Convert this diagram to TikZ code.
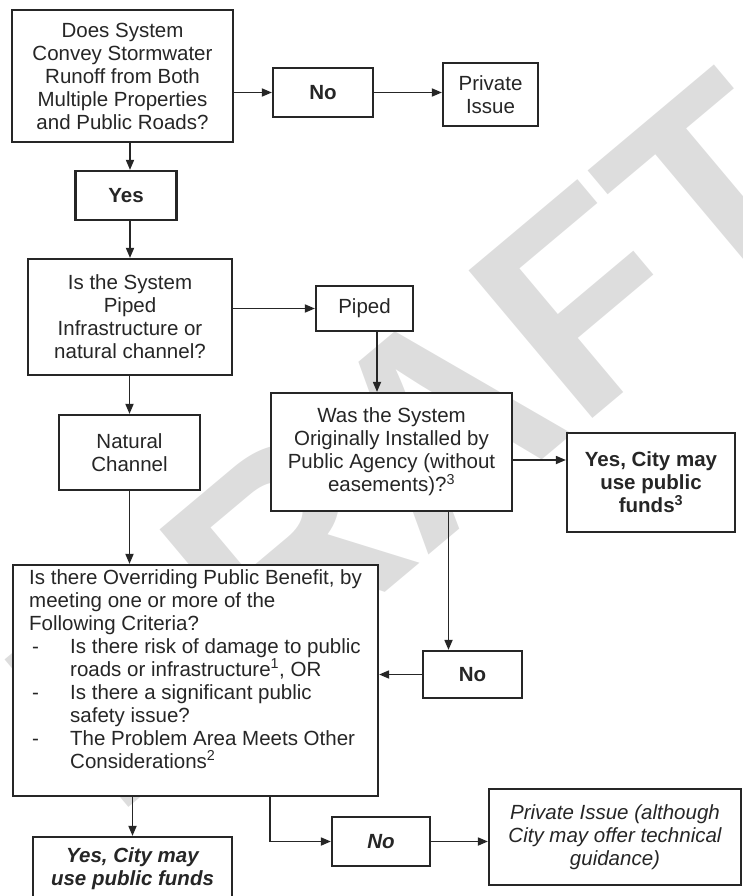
\documentclass[tikz,border=0pt]{standalone}
\usepackage{fontspec}
\setmainfont{Liberation Sans}
\usetikzlibrary{arrows.meta,calc}
\definecolor{ink}{HTML}{262626}
\definecolor{wm}{HTML}{DDDDDD}
\begin{document}
\begin{tikzpicture}[x=1pt,y=-1pt,
  box/.style={draw=ink, line width=2.2pt, fill=white, rectangle, inner sep=0pt,
    align=center, text=ink, font=\fontsize{20.5}{23}\selectfont},
  arr/.style={draw=ink, line width=1.7pt, -{Triangle[length=10pt,width=8pt]}},
  wmstyle/.style={font=\bfseries\fontsize{280}{280}\selectfont, text=wm,
    rotate=40, anchor=base west, inner sep=0pt}]
\useasboundingbox (0,0) rectangle (743,896);

% watermark
\begin{scope}
\clip (0,0) rectangle (743,896);
\node[wmstyle] (wmark) at (114,820) {DRAFT};
\end{scope}

% boxes
\node[box, minimum width=221pt, minimum height=132pt] (q1) at (122.5,76)
  {Does System\\Convey Stormwater\\Runoff from Both\\Multiple Properties\\and Public Roads?};
\node[box, minimum width=100pt, minimum height=49pt, font=\bfseries\fontsize{20.5}{23}\selectfont] (no1) at (323,92.5) {No};
\node[box, minimum width=95pt, minimum height=63pt] (priv1) at (490.5,94.5) {Private\\Issue};
\node[box, minimum width=101pt, minimum height=49pt, font=\bfseries\fontsize{20.5}{23}\selectfont] (yes1) at (126,195.5) {Yes};
\node[box, minimum width=204pt, minimum height=116pt] (q2) at (130,317)
  {Is the System\\Piped\\Infrastructure or\\natural channel?};
\node[box, minimum width=97pt, minimum height=45pt] (piped) at (364.5,308.5) {Piped};
\node[box, minimum width=141pt, minimum height=75pt] (nat) at (129.5,452.5) {Natural\\Channel};
\node[box, minimum width=241pt, minimum height=118pt] (q3) at (391.5,452)
  {Was the System\\Originally Installed by\\Public Agency (without\\easements)?\textsuperscript{3}};
\node[box, minimum width=168pt, minimum height=99pt, font=\bfseries\fontsize{20.5}{23}\selectfont] (yes2) at (651,482.5)
  {Yes, City may\\use public\\funds\textsuperscript{3}};
\node[box, minimum width=365pt, minimum height=231pt] (q4) at (195.5,680.5) {};
\node[anchor=north west, inner sep=0pt, align=left, text=ink, font=\fontsize{20.5}{23}\selectfont] (q4t) at (29,569)
  {Is there Overriding Public Benefit, by\\
   meeting one or more of the\\
   Following Criteria?\\
   \makebox[41pt][l]{\hspace{3pt}-}Is there risk of damage to public\\
   \hspace*{41pt}roads or infrastructure\textsuperscript{1}, OR\\
   \makebox[41pt][l]{\hspace{3pt}-}Is there a significant public\\
   \hspace*{41pt}safety issue?\\
   \makebox[41pt][l]{\hspace{3pt}-}The Problem Area Meets Other\\
   \hspace*{41pt}Considerations\textsuperscript{2}};
\node[box, minimum width=99pt, minimum height=47pt, font=\bfseries\fontsize{20.5}{23}\selectfont] (no2) at (472.5,674.5) {No};
\node[box, minimum width=199pt, minimum height=64pt, font=\bfseries\itshape\fontsize{20.5}{23}\selectfont] (yes3) at (132.5,869)
  {Yes, City may\\use public funds};
\node[box, minimum width=98pt, minimum height=49pt, font=\bfseries\itshape\fontsize{20.5}{23}\selectfont] (no3) at (381,841.5) {No};
\node[box, minimum width=252pt, minimum height=96pt, font=\itshape\fontsize{20.5}{23}\selectfont] (priv2) at (615,837)
  {Private Issue (although\\City may offer technical\\guidance)};

% helper coordinates
\coordinate (pbot) at ($(piped.south)+(12.5,0)$);
\coordinate (q3r) at ($(q3.east)+(0,8)$);
\coordinate (q3b) at ($(q3.south)+(57,0)$);
\coordinate (q4b) at ($(q4.south)+(74.5,0)$);

% connectors
\draw[arr] (no1.west -| q1.east) -- (no1.west);
\draw[arr] (no1.east) -- (no1.east -| priv1.west);
\draw[arr] (q1.south -| q2.north) -- (yes1.north -| q2.north);
\draw[arr] (yes1.south -| q2.north) -- (q2.north);
\draw[arr] (piped.west -| q2.east) -- (piped.west);
\draw[arr] (pbot) -- (pbot |- q3.north);
\draw[arr] (q2.south -| nat.north) -- (nat.north);
\draw[arr] (nat.south) -- (nat.south |- q4.north);
\draw[arr] (q3r) -- (q3r -| yes2.west);
\draw[arr] (q3b) -- (q3b |- no2.north);
\draw[arr] (no2.west) -- (no2.west -| q4.east);
\draw[arr] (q4.south -| yes3.north) -- (yes3.north);
\draw[arr] (q4b) |- (no3.west);
\draw[arr] (no3.east) -- (no3.east -| priv2.west);
\end{tikzpicture}
\end{document}
